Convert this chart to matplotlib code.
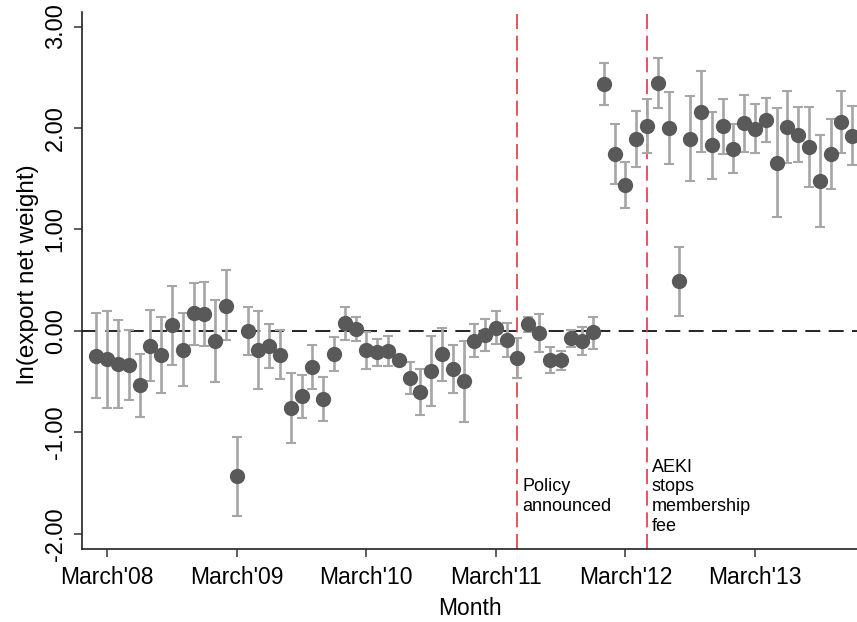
import matplotlib
matplotlib.use("Agg")
import matplotlib.pyplot as plt
import numpy as np

plt.rcParams['font.family'] = ['Liberation Sans', 'DejaVu Sans']
plt.rcParams['axes.unicode_minus'] = False

# month index: 0 = March 2008
months = list(range(-1, 70))
coef = [-0.243, -0.279, -0.325, -0.338, -0.535, -0.145, -0.236, 0.059, -0.187, 0.174,
        0.167, -0.102, 0.249, -1.430, 0.000, -0.190, -0.148, -0.236, -0.759, -0.644,
        -0.355, -0.670, -0.223, 0.076, 0.020, -0.187, -0.210, -0.194, -0.282, -0.463,
        -0.601, -0.391, -0.230, -0.374, -0.493, -0.095, -0.036, 0.033, -0.089, -0.263,
        0.069, -0.020, -0.286, -0.286, -0.072, -0.099, -0.013, 2.433, 1.741, 1.438,
        1.892, 2.020, 2.443, 2.000, 0.493, 1.895, 2.161, 1.829, 2.017, 1.796,
        2.046, 1.993, 2.076, 1.655, 2.007, 1.934, 1.813, 1.478, 1.741, 2.062, 1.924]
ci_low = [-0.660, -0.755, -0.762, -0.683, -0.844, -0.490, -0.608, -0.332, -0.542, -0.138,
          -0.151, -0.506, -0.086, -1.823, -0.236, -0.571, -0.365, -0.476, -1.103, -0.857,
          -0.568, -0.887, -0.391, -0.085, -0.102, -0.374, -0.345, -0.345, -0.310, -0.624,
          -0.824, -0.739, -0.493, -0.608, -0.893, -0.259, -0.194, -0.128, -0.259, -0.460,
          -0.007, -0.207, -0.414, -0.381, -0.158, -0.240, -0.174, 2.227, 1.448, 1.215,
          1.619, 1.754, 2.197, 1.645, 0.151, 1.478, 1.764, 1.500, 1.747, 1.553,
          1.764, 1.754, 1.859, 1.123, 1.652, 1.665, 1.419, 1.028, 1.396, 1.757, 1.638]
ci_high = [0.177, 0.200, 0.111, 0.010, -0.224, 0.207, 0.141, 0.446, 0.174, 0.476,
           0.483, 0.305, 0.600, -1.044, 0.240, 0.194, 0.066, 0.010, -0.417, -0.430,
           -0.135, -0.453, -0.062, 0.240, 0.138, -0.007, -0.079, -0.046, -0.250, -0.302,
           -0.374, -0.049, 0.033, -0.138, -0.099, 0.072, 0.121, 0.200, 0.079, -0.066,
           0.138, 0.167, -0.154, -0.194, 0.013, 0.043, 0.141, 2.640, 2.039, 1.662,
           2.167, 2.289, 2.687, 2.355, 0.828, 2.318, 2.559, 2.161, 2.283, 2.039,
           2.328, 2.236, 2.293, 2.194, 2.365, 2.204, 2.210, 1.931, 2.089, 2.368, 2.214]

tick_pos = [0, 12, 24, 36, 48, 60]
tick_labels = ["March'08", "March'09", "March'10", "March'11", "March'12", "March'13"]
y_ticks = [-2, -1, 0, 1, 2, 3]
event_months = [38, 50]
event_labels = ["Policy\nannounced", "AEKI\nstops\nmembership\nfee"]
event_text_y = [-1.45, -1.26]

x = np.array(months)
y = np.array(coef)
lo = np.array(ci_low)
hi = np.array(ci_high)

fig = plt.figure(figsize=(8.57, 6.22), dpi=100)
ax = fig.add_axes([82/857, 1-549/622, 1-82/857, (549-12)/622])

ax.axhline(0, color='black', lw=1.2, dashes=(9, 5), zorder=1)
for m, lab, ty in zip(event_months, event_labels, event_text_y):
    ax.axvline(m, color='#e8363c', lw=1.2, dashes=(9, 4), zorder=1)
    ax.text(m + 0.45, ty, lab, fontsize=13, va='top', ha='left',
            linespacing=1.2, color='black')

ax.errorbar(x, y, yerr=[y - lo, hi - y], fmt='none', ecolor='#a6a6a6',
            elinewidth=1.9, capsize=3.5, capthick=1.5, zorder=2)
ax.plot(x, y, 'o', color='#595959', markersize=11, markeredgewidth=0, zorder=3)

ax.set_xlim(-2.34, 69.45)
ax.set_ylim(-2.148, 3.143)
ax.set_xticks(tick_pos)
ax.set_xticklabels(tick_labels, fontsize=16.5)
ax.set_yticks(y_ticks)
ax.set_yticklabels([f"{v:.2f}" for v in y_ticks], fontsize=17, rotation=90,
                   va='center')
ax.tick_params(direction='out', length=6, width=1.1, color='#333333', pad=6)
ax.tick_params(axis='y', pad=5)
ax.set_xlabel('Month', fontsize=16.5, labelpad=6)
ax.set_ylabel('ln(export net weight)', fontsize=17.5)
ax.yaxis.set_label_coords(-0.056, 0.512)

for s in ['top', 'right']:
    ax.spines[s].set_visible(False)
for s in ['left', 'bottom']:
    ax.spines[s].set_linewidth(1.2)
    ax.spines[s].set_color('#222222')

fig.savefig('out.png', dpi=100)
